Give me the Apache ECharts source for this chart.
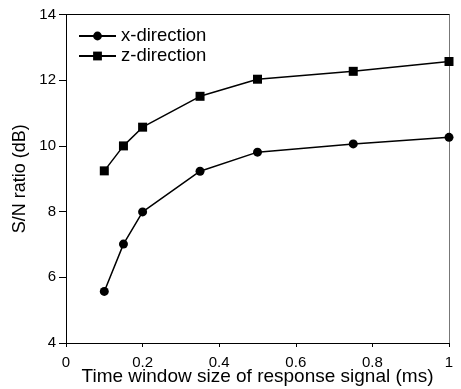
<!DOCTYPE html>
<html>
<head>
<meta charset="utf-8">
<script src="https://cdn.jsdelivr.net/npm/echarts@6/dist/echarts.min.js"></script>
<style>html,body{margin:0;padding:0;background:#fff;}#main{width:461px;height:389px;}</style>
</head>
<body>
<div id="main"></div>
<script>
var windowSizes = [0.1, 0.15, 0.2, 0.35, 0.5, 0.75, 1];
var xDirection = [5.57, 7.01, 7.99, 9.23, 9.81, 10.06, 10.26];
var zDirection = [9.24, 10.0, 10.57, 11.51, 12.03, 12.27, 12.57];
var seriesNames = ['x-direction', 'z-direction'];

function pairs(xs, ys) {
    var out = [];
    for (var i = 0; i < xs.length; i++) out.push([xs[i], ys[i]]);
    return out;
}

var font = 'Liberation Sans, Arial, sans-serif';
var myChart = echarts.init(document.getElementById('main'));
myChart.setOption({
    animation: false,
    grid: {left: 66, right: 12, top: 14.5, bottom: 46, outerBoundsMode: 'none', containLabel: false},
    legend: {
        left: 73, top: 21, orient: 'vertical', itemGap: 0, itemWidth: 37, itemHeight: 11,
        data: seriesNames,
        textStyle: {fontFamily: font, fontSize: 18.5, lineHeight: 20, color: '#000'}
    },
    xAxis: [{
        type: 'value', min: 0, max: 1, interval: 0.2,
        name: 'Time window size of response signal (ms)', nameLocation: 'middle', nameGap: 24,
        nameMoveOverlap: false,
        nameTextStyle: {fontFamily: font, fontSize: 19, color: '#000'},
        axisLine: {lineStyle: {color: '#000'}},
        axisTick: {show: true, length: 4, lineStyle: {color: '#000'}},
        axisLabel: {fontFamily: font, fontSize: 15, color: '#000', margin: 12},
        splitLine: {show: false}
    }, {
        type: 'value', min: 0, max: 1, position: 'top',
        axisLine: {show: true, onZero: false, lineStyle: {color: '#000'}},
        axisTick: {show: false}, axisLabel: {show: false}, splitLine: {show: false}
    }],
    yAxis: [{
        type: 'value', min: 4, max: 14, interval: 2,
        name: 'S/N ratio (dB)', nameLocation: 'middle', nameGap: 37,
        nameMoveOverlap: false,
        nameTextStyle: {fontFamily: font, fontSize: 18, color: '#000'},
        axisLine: {show: true, lineStyle: {color: '#000'}},
        axisTick: {show: true, length: 7, lineStyle: {color: '#000'}},
        axisLabel: {fontFamily: font, fontSize: 15, color: '#000', margin: 10},
        splitLine: {show: false}
    }, {
        type: 'value', min: 4, max: 14, position: 'right',
        axisLine: {show: true, onZero: false, lineStyle: {color: '#777'}},
        axisTick: {show: false}, axisLabel: {show: false}, splitLine: {show: false}
    }],
    series: [
        {name: seriesNames[0], type: 'line', data: pairs(windowSizes, xDirection),
         symbol: 'circle', symbolSize: 9, itemStyle: {color: '#000'},
         lineStyle: {color: '#000', width: 1.5}},
        {name: seriesNames[1], type: 'line', data: pairs(windowSizes, zDirection),
         symbol: 'rect', symbolSize: 9, itemStyle: {color: '#000'},
         lineStyle: {color: '#000', width: 1.5}}
    ]
});
</script>
</body>
</html>
